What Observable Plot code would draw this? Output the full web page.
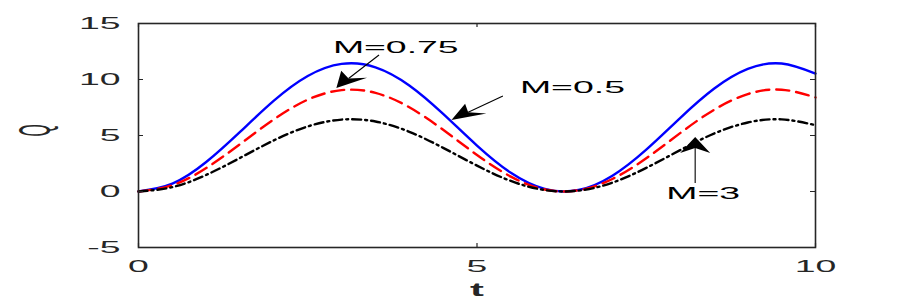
<!DOCTYPE html>
<html><head><meta charset="utf-8">
<script src="https://cdn.jsdelivr.net/npm/d3@7"></script>
<script src="https://cdn.jsdelivr.net/npm/@observablehq/plot@0.6"></script>
<style>
html,body{margin:0;padding:0;background:#fff;}
svg text{font-family:"Liberation Sans",Arial,sans-serif;}
</style>
</head><body><div id="chart"></div>
<script>
const t = [0,0.5,1,1.5,2,2.5,3,3.5,4,4.5,5,5.5,6,6.5,7,7.5,8,8.5,9,9.5,10];
const qBlue  = [0,0.70,2.63,5.32,8.11,10.31,11.39,11.09,9.47,6.93,4.10,1.67,0.23,0.13,1.41,3.74,6.56,9.17,10.94,11.43,10.53];
const qRed   = [0,0.56,2.09,4.23,6.44,8.20,9.05,8.81,7.52,5.51,3.26,1.33,0.18,0.11,1.12,2.97,5.21,7.29,8.70,9.09,8.40];
const qBlack = [0,0.39,1.48,3.00,4.57,5.81,6.42,6.25,5.33,3.90,2.31,0.94,0.13,0.08,0.79,2.11,3.69,5.17,6.16,6.44,5.92];

const xTicks = [0,5,10];
const yTicks = [-5,0,5,10,15];
const xLabel = "t";
const yLabel = "Q";

const annLabels = ["M=0.75","M=0.5","M=3"];
const annX = [3.80, 6.41, 8.34];
const annY = [12.86, 9.29, -0.2];
const arrowFromX = [3.56, 5.39, 8.23];
const arrowFromY = [12.14, 8.48, 0.71];
const arrowToX = [2.93, 4.63, 8.23];
const arrowToY = [9.2, 6.34, 4.82];

const series = [
  {name:"blue", q:qBlue, stroke:"#0000ff", dash:null},
  {name:"red", q:qRed, stroke:"#ff0000", dash:"13,7"},
  {name:"black", q:qBlack, stroke:"#000000", dash:"9,4,2,4"}
];
const W = 900, H = 300, mL = 138, mR = 85, mT = 23, mB = 53;
const pw = W - mL - mR, ph = H - mT - mB;
const ink = "#262626";

const marks = [];
series.forEach(s => {
  const rows = t.map((tt,i)=>({t:tt, q:s.q[i]}));
  marks.push(Plot.line(rows, {x:"t", y:"q", stroke:s.stroke, strokeWidth:2.4, strokeDasharray:s.dash, curve:"natural"}));
});
marks.push(
  Plot.ruleX(xTicks, {x:d=>d, insetTop: ph-4, stroke:ink, strokeWidth:1.2}),
  Plot.ruleX(xTicks, {x:d=>d, insetBottom: ph-4, stroke:ink, strokeWidth:1.2}),
  Plot.ruleY(yTicks, {y:d=>d, insetRight: pw-5, stroke:ink}),
  Plot.ruleY(yTicks, {y:d=>d, insetLeft: pw-5, stroke:ink}),
  Plot.frame({stroke:ink, strokeWidth:1.6}),
  Plot.axisX(xTicks, {tickSize:0, tickPadding:12, fontSize:17, fill:ink, tickFormat:d=>String(d), label:null}),
  Plot.axisY(yTicks, {tickSize:0, tickPadding:18, fontSize:17, fill:ink, tickFormat:d=>d<0?"-"+Math.abs(d):String(d), label:null}),
  Plot.text([xLabel], {frameAnchor:"bottom", dy:48, fontSize:19, fontWeight:"bold", fill:ink, text:d=>d}),
  Plot.text([yLabel], {frameAnchor:"left", dx:-103, dy:1, rotate:-90, fontSize:44, fill:ink, text:d=>d}),
  Plot.text(annLabels, {x:(d,i)=>annX[i], y:(d,i)=>annY[i], text:d=>d, fontSize:17, fill:"#000"})
);

const plot = Plot.plot({
  width:W, height:H, marginLeft:mL, marginRight:mR, marginTop:mT, marginBottom:mB,
  x:{domain:[0,10]}, y:{domain:[-5,15]},
  style:{fontFamily:"Liberation Sans, Arial, sans-serif", background:"#fff"},
  marks
});
document.getElementById("chart").appendChild(plot);

// stretch glyphs horizontally like the reference; the rotated Q is squeezed along its advance
d3.select(plot).selectAll("text").each(function(){
  const len = this.getComputedTextLength();
  if (len > 0) {
    const f = this.textContent === yLabel ? 0.36 : 2.2;
    this.setAttribute("textLength", (len*f).toFixed(1));
    this.setAttribute("lengthAdjust", "spacingAndGlyphs");
  }
});

// annotation arrows drawn through the plot's scales
const X = plot.scale("x"), Y = plot.scale("y");
const g = d3.select(plot).append("g");
const s = 2.15, L = 16, HW = 7, notch = 5;
annLabels.forEach((_, i) => {
  const tx = X.apply(arrowToX[i]), ty = Y.apply(arrowToY[i]);
  const bx = X.apply(arrowFromX[i]), by = Y.apply(arrowFromY[i]);
  const dx = (bx - tx)/s, dy = by - ty, len = Math.hypot(dx, dy);
  const ux = dx/len, uy = dy/len, nx = -uy, ny = ux;
  const P = (a, b) => [tx + (a*ux + b*nx)*s, ty + (a*uy + b*ny)];
  const left = P(L, HW), right = P(L, -HW), mid = P(L-notch, 0);
  g.append("line").attr("x1", bx).attr("y1", by).attr("x2", mid[0]).attr("y2", mid[1])
    .attr("stroke", "#000").attr("stroke-width", 1.1);
  g.append("path").attr("d", `M${tx},${ty}L${left[0]},${left[1]}L${mid[0]},${mid[1]}L${right[0]},${right[1]}Z`)
    .attr("fill", "#000");
});
</script></body></html>
